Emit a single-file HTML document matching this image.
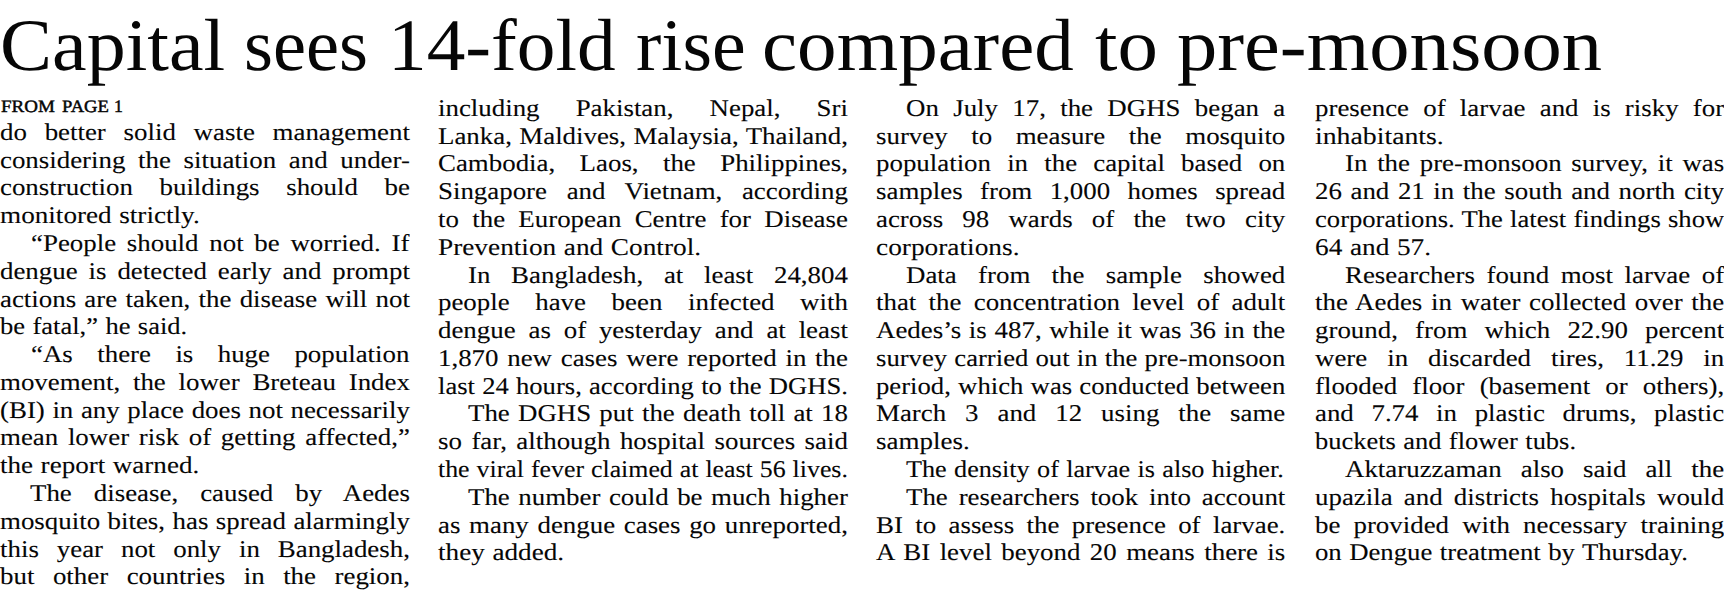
<!DOCTYPE html>
<html lang="en"><head><meta charset="utf-8"><title>Capital sees 14-fold rise compared to pre-monsoon</title>
<style>
html,body{margin:0;padding:0;background:#fff;}
body{text-rendering:geometricPrecision;width:1724px;height:596px;overflow:hidden;position:relative;font-family:"Liberation Serif",serif;color:#060606;}
.l{-webkit-text-stroke:0.1px #060606;font-size:24.00px;}
p{margin:0;padding:0;}
.l,.w{position:absolute;white-space:nowrap;transform-origin:0 0;line-height:1;margin:0;padding:0;font-weight:400;}
h1{margin:0;padding:0;font-weight:400;font-size:74.00px;line-height:1;}
.w{top:9.22px;}
.f{font-size:17.40px;font-weight:400;-webkit-text-stroke:0.45px #060606;}
.f .w{top:97.93px;}
</style></head>
<body>
<article>
<h1><span class="w" style="left:-0.46px;transform:scaleX(1.0539)">Capital </span><span class="w" style="left:244.28px;transform:scaleX(1.0059)">sees </span><span class="w" style="left:388.20px;transform:scaleX(1.0452)">14-fold </span><span class="w" style="left:636.27px;transform:scaleX(1.0264)">rise </span><span class="w" style="left:761.68px;transform:scaleX(1.0688)">compared </span><span class="w" style="left:1094.91px;transform:scaleX(1.0925)">to </span><span class="w" style="left:1176.61px;transform:scaleX(1.0886)">pre-monsoon</span></h1>
<div class="f"><span class="w" style="left:0.78px;transform:scaleX(1.0916)">FROM </span><span class="w" style="left:61.50px;transform:scaleX(1.0698)">PAGE </span><span class="w" style="left:114.41px;transform:scaleX(1.0200)">1</span></div>
<div class="col">
<p><span class="l" style="left:-0.30px;top:120.80px;word-spacing:9.851px;transform:scaleX(1.1200)">do better solid waste management</span>
<span class="l" style="left:-0.30px;top:148.59px;word-spacing:5.304px;transform:scaleX(1.1200)">considering the situation and under-</span>
<span class="l" style="left:-0.30px;top:176.38px;word-spacing:17.775px;transform:scaleX(1.1200)">construction buildings should be</span>
<span class="l" style="left:-0.31px;top:204.17px;word-spacing:0.700px;transform:scaleX(1.1319)">monitored strictly.</span></p>
<p><span class="l" style="left:31.20px;top:231.96px;word-spacing:3.587px;transform:scaleX(1.1200)">“People should not be worried. If</span>
<span class="l" style="left:-0.30px;top:259.75px;word-spacing:3.756px;transform:scaleX(1.1200)">dengue is detected early and prompt</span>
<span class="l" style="left:-0.30px;top:287.54px;word-spacing:1.349px;transform:scaleX(1.1200)">actions are taken, the disease will not</span>
<span class="l" style="left:-0.30px;top:315.33px;word-spacing:0.700px;transform:scaleX(1.1053)">be fatal,” he said.</span></p>
<p><span class="l" style="left:31.20px;top:343.12px;word-spacing:15.812px;transform:scaleX(1.1200)">“As there is huge population</span>
<span class="l" style="left:-0.30px;top:370.91px;word-spacing:5.359px;transform:scaleX(1.1200)">movement, the lower Breteau Index</span>
<span class="l" style="left:-0.30px;top:398.70px;word-spacing:0.794px;transform:scaleX(1.1200)">(BI) in any place does not necessarily</span>
<span class="l" style="left:-0.30px;top:426.49px;word-spacing:2.646px;transform:scaleX(1.1200)">mean lower risk of getting affected,”</span>
<span class="l" style="left:-0.30px;top:454.28px;word-spacing:0.700px;transform:scaleX(1.1277)">the report warned.</span></p>
<p><span class="l" style="left:29.70px;top:482.07px;word-spacing:13.655px;transform:scaleX(1.1200)">The disease, caused by Aedes</span>
<span class="l" style="left:-0.30px;top:509.86px;word-spacing:0.675px;transform:scaleX(1.1200)">mosquito bites, has spread alarmingly</span>
<span class="l" style="left:-0.30px;top:537.65px;word-spacing:10.006px;transform:scaleX(1.1200)">this year not only in Bangladesh,</span>
<span class="l" style="left:-0.30px;top:565.44px;word-spacing:10.543px;transform:scaleX(1.1200)">but other countries in the region,</span></p>
</div>
<div class="col">
<p><span class="l" style="left:437.90px;top:96.80px;word-spacing:26.228px;transform:scaleX(1.1200)">including Pakistan, Nepal, Sri</span>
<span class="l" style="left:437.90px;top:124.59px;word-spacing:0.619px;transform:scaleX(1.1200)">Lanka, Maldives, Malaysia, Thailand,</span>
<span class="l" style="left:437.90px;top:152.38px;word-spacing:15.781px;transform:scaleX(1.1200)">Cambodia, Laos, the Philippines,</span>
<span class="l" style="left:437.90px;top:180.17px;word-spacing:11.541px;transform:scaleX(1.1200)">Singapore and Vietnam, according</span>
<span class="l" style="left:437.90px;top:207.96px;word-spacing:5.887px;transform:scaleX(1.1200)">to the European Centre for Disease</span>
<span class="l" style="left:437.89px;top:235.75px;word-spacing:0.700px;transform:scaleX(1.1369)">Prevention and Control.</span></p>
<p><span class="l" style="left:467.90px;top:263.54px;word-spacing:12.483px;transform:scaleX(1.1200)">In Bangladesh, at least 24,804</span>
<span class="l" style="left:437.90px;top:291.33px;word-spacing:16.859px;transform:scaleX(1.1200)">people have been infected with</span>
<span class="l" style="left:437.90px;top:319.12px;word-spacing:5.463px;transform:scaleX(1.1200)">dengue as of yesterday and at least</span>
<span class="l" style="left:437.90px;top:346.91px;word-spacing:1.797px;transform:scaleX(1.1200)">1,870 new cases were reported in the</span>
<span class="l" style="left:437.90px;top:374.70px;word-spacing:0.500px;transform:scaleX(1.1090)">last 24 hours, according to the DGHS.</span></p>
<p><span class="l" style="left:467.90px;top:402.49px;word-spacing:1.320px;transform:scaleX(1.1200)">The DGHS put the death toll at 18</span>
<span class="l" style="left:437.90px;top:430.28px;word-spacing:2.468px;transform:scaleX(1.1200)">so far, although hospital sources said</span>
<span class="l" style="left:437.90px;top:458.07px;word-spacing:0.500px;transform:scaleX(1.0767)">the viral fever claimed at least 56 lives.</span></p>
<p><span class="l" style="left:467.90px;top:485.86px;word-spacing:1.592px;transform:scaleX(1.1200)">The number could be much higher</span>
<span class="l" style="left:437.90px;top:513.65px;word-spacing:1.753px;transform:scaleX(1.1200)">as many dengue cases go unreported,</span>
<span class="l" style="left:437.89px;top:541.44px;word-spacing:0.700px;transform:scaleX(1.1330)">they added.</span></p>
</div>
<div class="col">
<p><span class="l" style="left:906.00px;top:96.80px;word-spacing:6.782px;transform:scaleX(1.1200)">On July 17, the DGHS began a</span>
<span class="l" style="left:876.00px;top:124.59px;word-spacing:15.041px;transform:scaleX(1.1200)">survey to measure the mosquito</span>
<span class="l" style="left:876.00px;top:152.38px;word-spacing:8.439px;transform:scaleX(1.1200)">population in the capital based on</span>
<span class="l" style="left:876.00px;top:180.17px;word-spacing:9.541px;transform:scaleX(1.1200)">samples from 1,000 homes spread</span>
<span class="l" style="left:876.00px;top:207.96px;word-spacing:11.142px;transform:scaleX(1.1200)">across 98 wards of the two city</span>
<span class="l" style="left:875.98px;top:235.75px;word-spacing:0.000px;transform:scaleX(1.1389)">corporations.</span></p>
<p><span class="l" style="left:906.00px;top:263.54px;word-spacing:13.017px;transform:scaleX(1.1200)">Data from the sample showed</span>
<span class="l" style="left:876.00px;top:291.33px;word-spacing:4.980px;transform:scaleX(1.1200)">that the concentration level of adult</span>
<span class="l" style="left:876.00px;top:319.12px;word-spacing:0.935px;transform:scaleX(1.1200)">Aedes’s is 487, while it was 36 in the</span>
<span class="l" style="left:876.00px;top:346.91px;word-spacing:0.500px;transform:scaleX(1.1110)">survey carried out in the pre-monsoon</span>
<span class="l" style="left:876.00px;top:374.70px;word-spacing:0.500px;transform:scaleX(1.1126)">period, which was conducted between</span>
<span class="l" style="left:876.00px;top:402.49px;word-spacing:10.918px;transform:scaleX(1.1200)">March 3 and 12 using the same</span>
<span class="l" style="left:875.99px;top:430.28px;word-spacing:0.000px;transform:scaleX(1.1251)">samples.</span></p>
<p><span class="l" style="left:906.00px;top:458.07px;word-spacing:0.700px;transform:scaleX(1.0916)">The density of larvae is also higher.</span></p>
<p><span class="l" style="left:906.00px;top:485.86px;word-spacing:3.700px;transform:scaleX(1.1200)">The researchers took into account</span>
<span class="l" style="left:876.00px;top:513.65px;word-spacing:5.041px;transform:scaleX(1.1200)">BI to assess the presence of larvae.</span>
<span class="l" style="left:876.00px;top:541.44px;word-spacing:2.408px;transform:scaleX(1.1200)">A BI level beyond 20 means there is</span></p>
</div>
<div class="col">
<p><span class="l" style="left:1315.00px;top:96.80px;word-spacing:6.692px;transform:scaleX(1.1200)">presence of larvae and is risky for</span>
<span class="l" style="left:1314.97px;top:124.59px;word-spacing:0.000px;transform:scaleX(1.1571)">inhabitants.</span></p>
<p><span class="l" style="left:1345.00px;top:152.38px;word-spacing:2.705px;transform:scaleX(1.1200)">In the pre-monsoon survey, it was</span>
<span class="l" style="left:1315.00px;top:180.17px;word-spacing:1.676px;transform:scaleX(1.1200)">26 and 21 in the south and north city</span>
<span class="l" style="left:1315.00px;top:207.96px;word-spacing:0.500px;transform:scaleX(1.1094)">corporations. The latest findings show</span>
<span class="l" style="left:1314.98px;top:235.75px;word-spacing:0.700px;transform:scaleX(1.1375)">64 and 57.</span></p>
<p><span class="l" style="left:1345.00px;top:263.54px;word-spacing:4.338px;transform:scaleX(1.1200)">Researchers found most larvae of</span>
<span class="l" style="left:1315.00px;top:291.33px;word-spacing:1.807px;transform:scaleX(1.1200)">the Aedes in water collected over the</span>
<span class="l" style="left:1315.00px;top:319.12px;word-spacing:9.359px;transform:scaleX(1.1200)">ground, from which 22.90 percent</span>
<span class="l" style="left:1315.00px;top:346.91px;word-spacing:11.800px;transform:scaleX(1.1200)">were in discarded tires, 11.29 in</span>
<span class="l" style="left:1315.00px;top:374.70px;word-spacing:7.531px;transform:scaleX(1.1200)">flooded floor (basement or others),</span>
<span class="l" style="left:1315.00px;top:402.49px;word-spacing:9.746px;transform:scaleX(1.1200)">and 7.74 in plastic drums, plastic</span>
<span class="l" style="left:1315.00px;top:430.28px;word-spacing:0.700px;transform:scaleX(1.1027)">buckets and flower tubs.</span></p>
<p><span class="l" style="left:1345.00px;top:458.07px;word-spacing:11.002px;transform:scaleX(1.1200)">Aktaruzzaman also said all the</span>
<span class="l" style="left:1315.00px;top:485.86px;word-spacing:4.019px;transform:scaleX(1.1200)">upazila and districts hospitals would</span>
<span class="l" style="left:1315.00px;top:513.65px;word-spacing:5.699px;transform:scaleX(1.1200)">be provided with necessary training</span>
<span class="l" style="left:1315.01px;top:541.44px;word-spacing:0.700px;transform:scaleX(1.1139)">on Dengue treatment by Thursday.</span></p>
</div>
</article>
</body></html>
